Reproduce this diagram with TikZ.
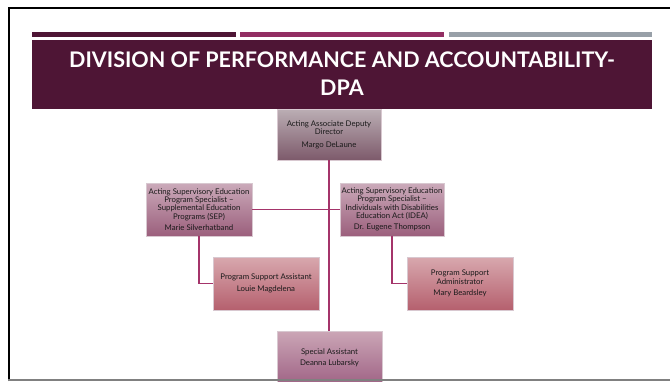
\documentclass[tikz,border=0pt]{standalone}
\usepackage{fontspec}
\setmainfont{Lato}
\definecolor{titlebg}{HTML}{4E1535}
\definecolor{barone}{HTML}{4E1535}
\definecolor{bartwo}{HTML}{922E63}
\definecolor{barthree}{HTML}{98A0A8}
\definecolor{linkc}{HTML}{A4346A}
\definecolor{boxedge}{HTML}{D8C8D0}
\definecolor{textdark}{HTML}{1A1A1A}
\definecolor{topa}{HTML}{BBAEB4}
\definecolor{topb}{HTML}{7D5A6B}
\definecolor{seca}{HTML}{CBAABA}
\definecolor{secb}{HTML}{9B5F7C}
\definecolor{thra}{HTML}{D8A8AE}
\definecolor{thrb}{HTML}{B5606E}
\definecolor{spea}{HTML}{CBA6B6}
\definecolor{speb}{HTML}{A06486}
\begin{document}
\begin{tikzpicture}[x=1pt,y=-1pt,
  orgbox/.style={rectangle, draw=boxedge, line width=0.4pt, inner sep=1pt, align=center,
    font=\fontsize{7.8}{8.4}\selectfont, text=textdark, minimum height=53pt},
  toplevel/.style={orgbox, top color=topa, bottom color=topb, minimum width=104pt, minimum height=51pt},
  seclevel/.style={orgbox, top color=seca, bottom color=secb, minimum width=106pt},
  thrlevel/.style={orgbox, top color=thra, bottom color=thrb, minimum width=106pt},
  spelevel/.style={orgbox, top color=spea, bottom color=speb, minimum width=105pt},
  link/.style={draw=linkc, line width=1.2pt}
]
\useasboundingbox (0,0) rectangle (670,381);
\fill[white] (0,0) rectangle (670,381);
% frame
\draw[black, line width=2.2pt] (8.6,381) -- (8.6,8.3) -- (670,8.3);
% bars
\fill[barone] (32,32) rectangle (236,37.3);
\fill[bartwo] (240,32) rectangle (444,37.3);
\fill[barthree] (449,32) rectangle (652,37.3);
% title
\fill[titlebg] (32,39.5) rectangle (652,108.5);
\node[text=white, font=\fontsize{21.5}{28}\selectfont\bfseries, align=center] (title) at (342,74)
  {DIVISION OF PERFORMANCE AND ACCOUNTABILITY-\\DPA};
% nodes
\node[toplevel] (dir) at (329,134.5) {Acting Associate Deputy\\Director\\[4pt]Margo DeLaune};
\node[seclevel] (sep) at (199,209.5) {Acting Supervisory Education\\Program Specialist --\\Supplemental Education\\Programs (SEP)\\[3pt]Marie Silverhatband};
\node[seclevel, minimum width=104pt] (idea) at (392,209.5) {Acting Supervisory Education\\Program Specialist --\\Individuals with Disabilities\\Education Act (IDEA)\\[3pt]Dr. Eugene Thompson};
\node[thrlevel] (psa) at (266,283.5) {Program Support Assistant\\[3pt]Louie Magdelena};
\node[thrlevel] (psad) at (460,283.5) {Program Support\\Administrator\\[3pt]Mary Beardsley};
\node[spelevel] (spec) at (329.5,357.5) {Special Assistant\\[3pt]Deanna Lubarsky};
% connectors
\draw[link] (dir.south) -- (dir.south |- spec.north);
\draw[link] (sep.east) -- (idea.west);
\draw[link] (sep.south) |- (psa.west);
\draw[link] (idea.south) |- (psad.west);
% bottom line
\fill[gray] (8,379.3) rectangle (670,381);
\end{tikzpicture}
\end{document}
